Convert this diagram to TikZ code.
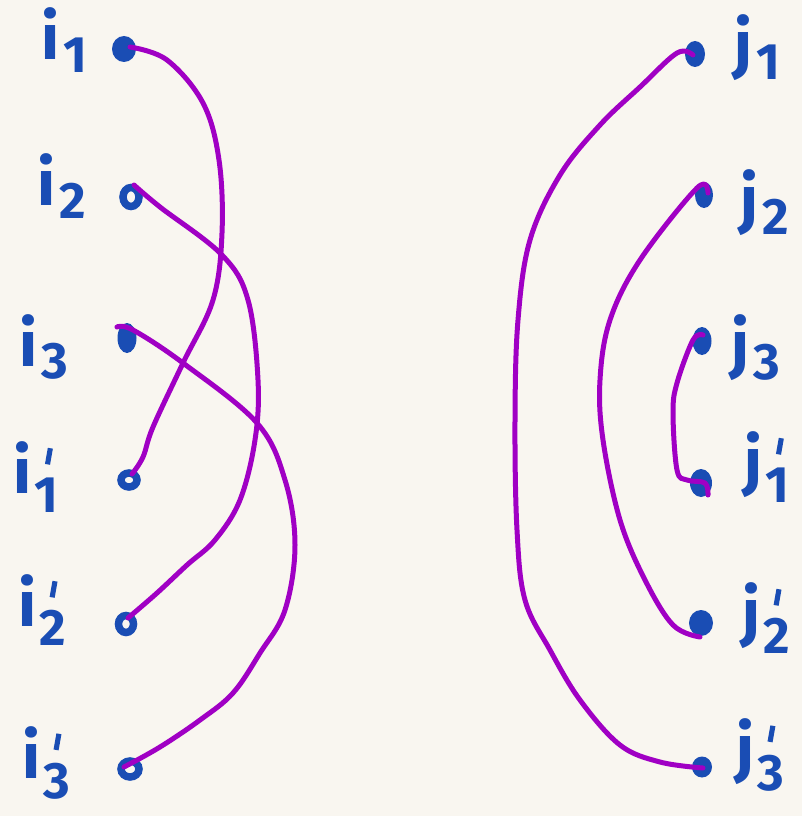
\documentclass[tikz,border=0pt]{standalone}
\usepackage{fontspec}
\setsansfont{Fira Sans}
\definecolor{paper}{HTML}{F9F6F0}
\definecolor{ink}{HTML}{1A4DB4}
\definecolor{link}{HTML}{A000C4}
\tikzset{
  lbl/.style={text=ink, font=\sffamily\bfseries\fontsize{64}{64}\selectfont, inner sep=0pt},
  wire/.style={draw=link, line width=5pt, line cap=round, line join=round},
  dotfill/.style={fill=ink},
  dotline/.style={draw=ink, line width=7.5pt}
}
\newcommand{\lab}[2]{#1\kern0.06em\raisebox{-0.2em}{\scalebox{0.8}{#2}}}
\newcommand{\labp}[2]{#1\kern0.05em\raisebox{-0.3em}{\scalebox{0.8}{\rlap{\kern0.2em\raisebox{0.95em}{\rotatebox{-10}{\rule{0.1em}{0.32em}}}}#2}}}
\begin{document}
\begin{tikzpicture}[x=1pt,y=-1pt]
\fill[paper] (0,0) rectangle (802,816);
\useasboundingbox (0,0) rectangle (802,816);
% dot positions
\coordinate (i1) at (124,49);
\coordinate (i2) at (131,197);
\coordinate (i3) at (127,338);
\coordinate (i1p) at (129,480);
\coordinate (i2p) at (126,624);
\coordinate (i3p) at (130,769);
\coordinate (j1) at (695,54);
\coordinate (j2) at (704,195);
\coordinate (j3) at (702,341);
\coordinate (j1p) at (701,483);
\coordinate (j2p) at (701,623);
\coordinate (j3p) at (702,767);
% dots
\fill[dotfill] (i1) ellipse [x radius=12, y radius=13];
\draw[dotline] (i2) ellipse [x radius=8, y radius=9.5];
\fill[dotfill] (i3) ellipse [x radius=9.5, y radius=15];
\draw[dotline] (i1p) ellipse [x radius=8, y radius=7];
\draw[dotline] (i2p) ellipse [x radius=7.5, y radius=8.5];
\draw[dotline] (i3p) ellipse [x radius=9, y radius=8];
\fill[dotfill] (j1) ellipse [x radius=10, y radius=13];
\fill[dotfill] (j2) ellipse [x radius=9, y radius=13];
\fill[dotfill] (j3) ellipse [x radius=9.5, y radius=14];
\fill[dotfill] (j1p) ellipse [x radius=11, y radius=14];
\fill[dotfill] (j2p) ellipse [x radius=12, y radius=13];
\fill[dotfill] (j3p) ellipse [x radius=10, y radius=10.5];
% labels
\node[lbl] (li1) at (64,40) {\lab{i}{1}};
\node[lbl] (li2) at (62,186) {\lab{i}{2}};
\node[lbl] (li3) at (44,347) {\lab{i}{3}};
\node[lbl] (li1p) at (36,477) {\labp{i}{1}};
\node[lbl] (li2p) at (42,610) {\labp{i}{2}};
\node[lbl] (li3p) at (46,763) {\labp{i}{3}};
\node[lbl] (lj1) at (757,48) {\lab{j}{1}};
\node[lbl] (lj2) at (765,203) {\lab{j}{2}};
\node[lbl] (lj3) at (756,348) {\lab{j}{3}};
\node[lbl] (lj1p) at (767,467) {\labp{j}{1}};
\node[lbl] (lj2p) at (766,618) {\labp{j}{2}};
\node[lbl] (lj3p) at (760,755) {\labp{j}{3}};
% connectors
\draw[wire] plot[smooth, tension=0.6] coordinates {(130,47) (167,60) (203,103) (219,160) (222,233) (213,300) (183,363) (153,427) (143,457) (132,474)};
\draw[wire] plot[smooth, tension=0.6] coordinates {(134,185) (160,207) (222,255) (248,300) (258,380) (255,440) (240,500) (215,540) (187,565) (157,593) (128,618)};
\draw[wire] plot[smooth, tension=0.6] coordinates {(117,327) (133,330) (183,363) (257,423) (285,480) (295,545) (285,610) (260,653) (233,693) (200,720) (160,747) (124,767)};
\draw[wire] plot[smooth, tension=0.6] coordinates {(693,55) (677,53) (640,87) (600,125) (560,175) (530,240) (518,320) (515,420) (517,530) (525,600) (550,650) (580,700) (620,745) (660,762) (703,768)};
\draw[wire] plot[smooth, tension=0.6] coordinates {(708,193) (697,188) (640,260) (610,320) (600,380) (603,440) (620,520) (645,580) (673,625) (700,637)};
\draw[wire] plot[smooth, tension=0.6] coordinates {(703,335) (693,340) (677,383) (673,413) (677,470) (687,480) (705,483) (708,495)};
\end{tikzpicture}
\end{document}
